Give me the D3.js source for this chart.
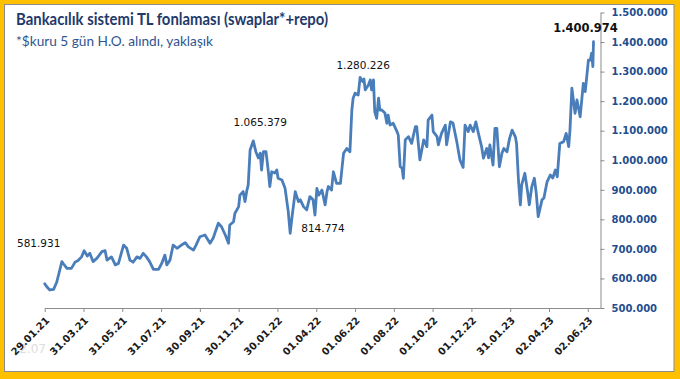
<!DOCTYPE html>
<html>
<head>
<meta charset="utf-8">
<script src="https://cdn.jsdelivr.net/npm/d3@7"></script>
<style>
  html, body { margin: 0; padding: 0; background: #FFC000; }
  svg { display: block; }
</style>
</head>
<body>
<svg id="chart" width="680" height="379"></svg>
<script>
// ---- data ----
const titleText = "Bankacılık sistemi TL fonlaması (swaplar*+repo)";
const subtitleText = "*$kuru 5 gün H.O. alındı, yaklaşık";
const startDate = "29.01.21";
const endDate = "22.06.23";
const tickLabels = ["29.01.21","31.03.21","31.05.21","31.07.21","30.09.21","30.11.21","30.01.22",
  "01.04.22","01.06.22","01.08.22","01.10.22","01.12.22","31.01.23","02.04.23","02.06.23"];
const yTicks = [500000,600000,700000,800000,900000,1000000,1100000,1200000,1300000,1400000,1500000];
// days since 29.01.21
const dayOffsets = [0,4,8,14,19,27,30,35,42,48,52,58,62,67,71,76,82,90,95,98,105,111,116,124,129,134,139,145,150,155,160,165,171,179,184,189,192,197,202,208,215,221,226,234,238,244,252,260,265,273,278,284,289,291,297,299,305,307,312,315,318,320,323,328,332,336,339,341,344,348,352,354,357,362,365,367,373,378,383,386,389,394,399,402,407,412,417,422,425,428,431,436,441,444,446,451,454,459,465,470,475,480,483,485,488,493,496,500,502,504,509,512,514,517,519,522,525,527,530,535,538,540,543,548,554,556,559,562,564,567,572,577,583,585,590,596,601,603,609,611,617,619,624,630,632,638,642,648,653,658,661,666,669,674,678,682,687,690,695,698,700,705,708,711,715,719,722,727,731,735,740,742,745,748,750,755,759,762,766,770,773,776,782,785,790,795,799,803,806,810,816,820,824,826,829,834,837,842,847,850,855,858,860,862,863];
const fundingValues = [581931,570000,561000,563000,588000,657000,648000,634000,634000,656000,660000,673000,694000,676000,685000,657000,668000,691000,694000,662000,673000,646000,651000,713000,702000,662000,655000,673000,668000,685000,673000,657000,631000,631000,651000,679000,646000,662000,713000,702000,713000,721000,707000,696000,713000,741000,747000,719000,737000,787000,775000,747000,719000,781000,792000,820000,843000,882000,894000,860000,899000,916000,1035000,1065379,1029000,1008000,1024000,967000,1029000,1029000,956000,911000,961000,957000,967000,939000,933000,905000,826000,753000,809000,894000,860000,866000,843000,832000,877000,866000,814774,905000,882000,899000,849000,894000,911000,899000,961000,922000,922000,1024000,1040000,1029000,1170000,1210000,1227000,1221000,1280226,1266000,1275000,1238000,1255000,1272000,1238000,1272000,1164000,1142000,1210000,1170000,1170000,1160000,1125000,1153000,1119000,1125000,1097000,1085000,978000,973000,939000,1069000,1080000,1057000,1114000,1114000,1001000,1069000,1046000,1136000,1153000,1097000,1080000,1052000,1091000,1119000,1052000,1130000,1126000,1063000,1001000,976000,1119000,1097000,1119000,1097000,1130000,1091000,1046000,1007000,1040000,1008000,1052000,984000,1108000,1108000,978000,1024000,1040000,1029000,1074000,1102000,1080000,1057000,933000,849000,916000,956000,899000,849000,911000,939000,888000,809000,866000,872000,927000,950000,940000,967000,944000,1057000,1063000,1091000,1046000,1102000,1244000,1159000,1204000,1147000,1260000,1232000,1339000,1339000,1362000,1317000,1400974];
const annotatedValues = [581931,1065379,814774,1280226,1400974];

// ---- build ----
const parse = d3.timeParse("%d.%m.%y");
const fmtDate = d3.timeFormat("%d.%m.%y");
const fmtNum = v => d3.format(",")(v).replace(/,/g, ".");
const t0 = parse(startDate);
const n = Math.min(dayOffsets.length, fundingValues.length);
const data = d3.range(n).map(i => ({ date: d3.timeDay.offset(t0, dayOffsets[i]), value: fundingValues[i] }));

const svg = d3.select("#chart");
// frame
svg.append("rect").attr("x", 0).attr("y", 0).attr("width", 680).attr("height", 379).attr("fill", "#FFC000");
svg.append("rect").attr("x", 4.5).attr("y", 4.5).attr("width", 669.5).attr("height", 367).attr("fill", "#fff")
  .attr("stroke", "#8c8c8c").attr("stroke-width", 1);

const plotLeft = 44.7, plotRight = 600.5, plotTop = 12.5, plotBottom = 308;
const x = d3.scaleTime().domain([t0, parse(endDate)]).range([plotLeft, plotRight]);
const y = d3.scaleLinear().domain([500000, 1500000]).range([plotBottom, plotTop]);

// faint background text
svg.append("text").attr("x", 46).attr("y", 353).attr("text-anchor", "end")
  .attr("font-family", "DejaVu Sans").attr("font-size", 12).attr("fill", "#dcdcdc").text("2.07");

// x axis
const xAxis = svg.append("g").attr("transform", `translate(0,${plotBottom})`)
  .call(d3.axisBottom(x).tickValues(tickLabels.map(parse)).tickFormat(fmtDate).tickSize(4).tickSizeOuter(0));
xAxis.select(".domain").attr("stroke", "#8c8c8c");
xAxis.selectAll(".tick line").attr("stroke", "#8c8c8c");
xAxis.selectAll(".tick text")
  .attr("font-family", "DejaVu Sans").attr("font-weight", "bold").attr("font-size", 10).attr("fill", "#1a1a1a")
  .attr("text-anchor", "end").attr("dy", null).attr("y", 0)
  .attr("transform", "translate(5,13) rotate(-45)");

// y axis
const yAxis = svg.append("g").attr("transform", `translate(${plotRight},0)`)
  .call(d3.axisRight(y).tickValues(yTicks).tickFormat(fmtNum).tickSize(4).tickSizeOuter(0));
yAxis.select(".domain").attr("stroke", "#8c8c8c");
yAxis.selectAll(".tick line").attr("stroke", "#8c8c8c");
yAxis.selectAll(".tick text")
  .attr("font-family", "DejaVu Sans").attr("font-weight", "bold").attr("font-size", 10).attr("fill", "#1F4E8F")
  .attr("x", 11);

// line
const line = d3.line().x(d => x(d.date)).y(d => y(d.value));
svg.append("path").datum(data).attr("d", line).attr("fill", "none")
  .attr("stroke", "#4A7EBB").attr("stroke-width", 2.8).attr("stroke-linejoin", "round").attr("stroke-linecap", "round");

// annotations (offsets relative to the data point)
const annOffsets = { 581931: [-6, -37], 1065379: [7, -15], 814774: [8, 17], 1280226: [3, -8], 1400974: [-8, -10] };
annotatedValues.forEach(v => {
  const d = data.find(p => p.value === v);
  if (!d) return;
  const off = annOffsets[v];
  const big = v === 1400974;
  svg.append("text").attr("x", x(d.date) + off[0]).attr("y", y(d.value) + off[1])
    .attr("text-anchor", "middle").attr("font-family", "DejaVu Sans")
    .attr("font-size", big ? 11.5 : 10.5).attr("font-weight", big ? "bold" : "normal")
    .attr("fill", "#111").text(fmtNum(v));
});

// titles
svg.append("text").attr("x", 16).attr("y", 24.5).attr("font-family", "Lato")
  .attr("font-weight", "bold").attr("font-size", 17.5).attr("fill", "#1F3A6B")
  .attr("textLength", 312).attr("lengthAdjust", "spacingAndGlyphs").text(titleText);
svg.append("text").attr("x", 16).attr("y", 45.5).attr("font-family", "Lato")
  .attr("font-size", 13.5).attr("fill", "#2F5590")
  .attr("textLength", 197).attr("lengthAdjust", "spacingAndGlyphs").text(subtitleText);
</script>
</body>
</html>
